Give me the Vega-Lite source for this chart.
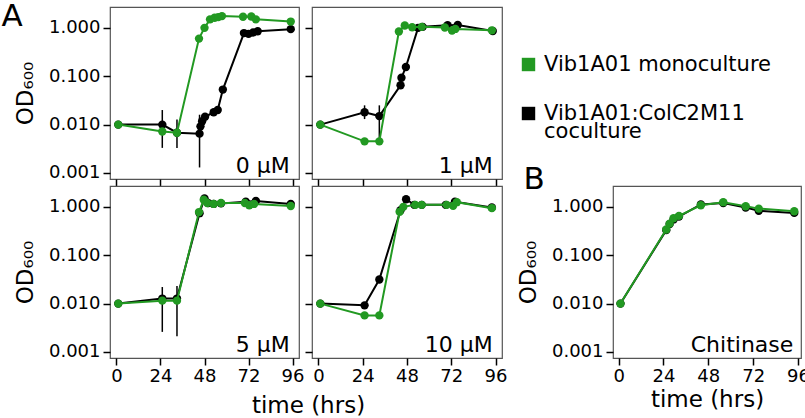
{
  "$schema": "https://vega.github.io/schema/vega-lite/v6.json",
  "padding": {"left": 0, "top": 0, "right": 0, "bottom": 0},
  "datasets": {
    "growth": [
      {"cond": "0 µM", "series": "Vib1A01 monoculture", "t": 1, "od": 0.010},
      {"cond": "0 µM", "series": "Vib1A01 monoculture", "t": 25, "od": 0.0072},
      {"cond": "0 µM", "series": "Vib1A01 monoculture", "t": 33, "od": 0.0068},
      {"cond": "0 µM", "series": "Vib1A01 monoculture", "t": 45, "od": 0.6},
      {"cond": "0 µM", "series": "Vib1A01 monoculture", "t": 48, "od": 1.0},
      {"cond": "0 µM", "series": "Vib1A01 monoculture", "t": 51, "od": 1.5},
      {"cond": "0 µM", "series": "Vib1A01 monoculture", "t": 53.5, "od": 1.62},
      {"cond": "0 µM", "series": "Vib1A01 monoculture", "t": 55.5, "od": 1.67},
      {"cond": "0 µM", "series": "Vib1A01 monoculture", "t": 57.5, "od": 1.75},
      {"cond": "0 µM", "series": "Vib1A01 monoculture", "t": 69, "od": 1.7},
      {"cond": "0 µM", "series": "Vib1A01 monoculture", "t": 73.5, "od": 1.72},
      {"cond": "0 µM", "series": "Vib1A01 monoculture", "t": 76, "od": 1.5},
      {"cond": "0 µM", "series": "Vib1A01 monoculture", "t": 95, "od": 1.35},
      {"cond": "0 µM", "series": "Vib1A01:ColC2M11 coculture", "t": 1, "od": 0.010},
      {"cond": "0 µM", "series": "Vib1A01:ColC2M11 coculture", "t": 25, "od": 0.0100, "lo": 0.0033, "hi": 0.02},
      {"cond": "0 µM", "series": "Vib1A01:ColC2M11 coculture", "t": 33, "od": 0.0068, "lo": 0.0033, "hi": 0.0127},
      {"cond": "0 µM", "series": "Vib1A01:ColC2M11 coculture", "t": 45.3, "od": 0.0065, "lo": 0.0013, "hi": 0.016},
      {"cond": "0 µM", "series": "Vib1A01:ColC2M11 coculture", "t": 45.8, "od": 0.0092},
      {"cond": "0 µM", "series": "Vib1A01:ColC2M11 coculture", "t": 46.7, "od": 0.0117},
      {"cond": "0 µM", "series": "Vib1A01:ColC2M11 coculture", "t": 48.3, "od": 0.0145},
      {"cond": "0 µM", "series": "Vib1A01:ColC2M11 coculture", "t": 53, "od": 0.018},
      {"cond": "0 µM", "series": "Vib1A01:ColC2M11 coculture", "t": 55.2, "od": 0.020},
      {"cond": "0 µM", "series": "Vib1A01:ColC2M11 coculture", "t": 58, "od": 0.053},
      {"cond": "0 µM", "series": "Vib1A01:ColC2M11 coculture", "t": 69.5, "od": 0.78},
      {"cond": "0 µM", "series": "Vib1A01:ColC2M11 coculture", "t": 72, "od": 0.75},
      {"cond": "0 µM", "series": "Vib1A01:ColC2M11 coculture", "t": 74.5, "od": 0.8},
      {"cond": "0 µM", "series": "Vib1A01:ColC2M11 coculture", "t": 77, "od": 0.85},
      {"cond": "0 µM", "series": "Vib1A01:ColC2M11 coculture", "t": 95, "od": 0.94},

      {"cond": "1 µM", "series": "Vib1A01 monoculture", "t": 1, "od": 0.010},
      {"cond": "1 µM", "series": "Vib1A01 monoculture", "t": 25, "od": 0.0045},
      {"cond": "1 µM", "series": "Vib1A01 monoculture", "t": 33, "od": 0.0045},
      {"cond": "1 µM", "series": "Vib1A01 monoculture", "t": 43.6, "od": 0.84},
      {"cond": "1 µM", "series": "Vib1A01 monoculture", "t": 46.8, "od": 1.12},
      {"cond": "1 µM", "series": "Vib1A01 monoculture", "t": 50.8, "od": 1.03},
      {"cond": "1 µM", "series": "Vib1A01 monoculture", "t": 56, "od": 1.05},
      {"cond": "1 µM", "series": "Vib1A01 monoculture", "t": 68.5, "od": 1.02},
      {"cond": "1 µM", "series": "Vib1A01 monoculture", "t": 72.4, "od": 0.88},
      {"cond": "1 µM", "series": "Vib1A01 monoculture", "t": 74.2, "od": 0.95},
      {"cond": "1 µM", "series": "Vib1A01 monoculture", "t": 94, "od": 0.89},
      {"cond": "1 µM", "series": "Vib1A01:ColC2M11 coculture", "t": 1, "od": 0.010},
      {"cond": "1 µM", "series": "Vib1A01:ColC2M11 coculture", "t": 25, "od": 0.018, "lo": 0.013, "hi": 0.025},
      {"cond": "1 µM", "series": "Vib1A01:ColC2M11 coculture", "t": 33, "od": 0.015, "lo": 0.0045, "hi": 0.025},
      {"cond": "1 µM", "series": "Vib1A01:ColC2M11 coculture", "t": 44.5, "od": 0.065},
      {"cond": "1 µM", "series": "Vib1A01:ColC2M11 coculture", "t": 45, "od": 0.093},
      {"cond": "1 µM", "series": "Vib1A01:ColC2M11 coculture", "t": 47.4, "od": 0.155},
      {"cond": "1 µM", "series": "Vib1A01:ColC2M11 coculture", "t": 54, "od": 1.0},
      {"cond": "1 µM", "series": "Vib1A01:ColC2M11 coculture", "t": 56.5, "od": 1.05},
      {"cond": "1 µM", "series": "Vib1A01:ColC2M11 coculture", "t": 70, "od": 1.13},
      {"cond": "1 µM", "series": "Vib1A01:ColC2M11 coculture", "t": 75.5, "od": 1.15},
      {"cond": "1 µM", "series": "Vib1A01:ColC2M11 coculture", "t": 94.5, "od": 0.86},

      {"cond": "5 µM", "series": "Vib1A01 monoculture", "t": 1, "od": 0.010},
      {"cond": "5 µM", "series": "Vib1A01 monoculture", "t": 25, "od": 0.0115},
      {"cond": "5 µM", "series": "Vib1A01 monoculture", "t": 33, "od": 0.0115},
      {"cond": "5 µM", "series": "Vib1A01 monoculture", "t": 45, "od": 0.78},
      {"cond": "5 µM", "series": "Vib1A01 monoculture", "t": 47.6, "od": 1.4},
      {"cond": "5 µM", "series": "Vib1A01 monoculture", "t": 49.5, "od": 1.2},
      {"cond": "5 µM", "series": "Vib1A01 monoculture", "t": 53, "od": 1.15},
      {"cond": "5 µM", "series": "Vib1A01 monoculture", "t": 57, "od": 1.2},
      {"cond": "5 µM", "series": "Vib1A01 monoculture", "t": 70, "od": 1.2},
      {"cond": "5 µM", "series": "Vib1A01 monoculture", "t": 72.4, "od": 1.08},
      {"cond": "5 µM", "series": "Vib1A01 monoculture", "t": 75, "od": 1.15},
      {"cond": "5 µM", "series": "Vib1A01 monoculture", "t": 95, "od": 1.04},
      {"cond": "5 µM", "series": "Vib1A01:ColC2M11 coculture", "t": 1, "od": 0.010},
      {"cond": "5 µM", "series": "Vib1A01:ColC2M11 coculture", "t": 25, "od": 0.0127, "lo": 0.0026, "hi": 0.022},
      {"cond": "5 µM", "series": "Vib1A01:ColC2M11 coculture", "t": 33, "od": 0.0127, "lo": 0.0021, "hi": 0.023},
      {"cond": "5 µM", "series": "Vib1A01:ColC2M11 coculture", "t": 45.3, "od": 0.74},
      {"cond": "5 µM", "series": "Vib1A01:ColC2M11 coculture", "t": 48, "od": 1.5},
      {"cond": "5 µM", "series": "Vib1A01:ColC2M11 coculture", "t": 50, "od": 1.2},
      {"cond": "5 µM", "series": "Vib1A01:ColC2M11 coculture", "t": 53, "od": 1.15},
      {"cond": "5 µM", "series": "Vib1A01:ColC2M11 coculture", "t": 57, "od": 1.18},
      {"cond": "5 µM", "series": "Vib1A01:ColC2M11 coculture", "t": 70.5, "od": 1.28},
      {"cond": "5 µM", "series": "Vib1A01:ColC2M11 coculture", "t": 76, "od": 1.32},
      {"cond": "5 µM", "series": "Vib1A01:ColC2M11 coculture", "t": 95, "od": 1.15},

      {"cond": "10 µM", "series": "Vib1A01 monoculture", "t": 1, "od": 0.010},
      {"cond": "10 µM", "series": "Vib1A01 monoculture", "t": 25, "od": 0.0057},
      {"cond": "10 µM", "series": "Vib1A01 monoculture", "t": 33, "od": 0.0057},
      {"cond": "10 µM", "series": "Vib1A01 monoculture", "t": 44, "od": 0.79},
      {"cond": "10 µM", "series": "Vib1A01 monoculture", "t": 46, "od": 1.0},
      {"cond": "10 µM", "series": "Vib1A01 monoculture", "t": 52.5, "od": 1.1},
      {"cond": "10 µM", "series": "Vib1A01 monoculture", "t": 56, "od": 1.1},
      {"cond": "10 µM", "series": "Vib1A01 monoculture", "t": 69.5, "od": 1.1},
      {"cond": "10 µM", "series": "Vib1A01 monoculture", "t": 73, "od": 1.05},
      {"cond": "10 µM", "series": "Vib1A01 monoculture", "t": 75, "od": 1.25},
      {"cond": "10 µM", "series": "Vib1A01 monoculture", "t": 94, "od": 0.94},
      {"cond": "10 µM", "series": "Vib1A01:ColC2M11 coculture", "t": 1, "od": 0.010},
      {"cond": "10 µM", "series": "Vib1A01:ColC2M11 coculture", "t": 25, "od": 0.0092},
      {"cond": "10 µM", "series": "Vib1A01:ColC2M11 coculture", "t": 33, "od": 0.0315},
      {"cond": "10 µM", "series": "Vib1A01:ColC2M11 coculture", "t": 44.5, "od": 0.85},
      {"cond": "10 µM", "series": "Vib1A01:ColC2M11 coculture", "t": 47.5, "od": 1.44},
      {"cond": "10 µM", "series": "Vib1A01:ColC2M11 coculture", "t": 52, "od": 1.1},
      {"cond": "10 µM", "series": "Vib1A01:ColC2M11 coculture", "t": 56, "od": 1.1},
      {"cond": "10 µM", "series": "Vib1A01:ColC2M11 coculture", "t": 69, "od": 1.1},
      {"cond": "10 µM", "series": "Vib1A01:ColC2M11 coculture", "t": 74, "od": 1.28},
      {"cond": "10 µM", "series": "Vib1A01:ColC2M11 coculture", "t": 94, "od": 0.97},

      {"cond": "Chitinase", "series": "Vib1A01 monoculture", "t": 1, "od": 0.010},
      {"cond": "Chitinase", "series": "Vib1A01 monoculture", "t": 25.5, "od": 0.34},
      {"cond": "Chitinase", "series": "Vib1A01 monoculture", "t": 27.3, "od": 0.45},
      {"cond": "Chitinase", "series": "Vib1A01 monoculture", "t": 29.4, "od": 0.58},
      {"cond": "Chitinase", "series": "Vib1A01 monoculture", "t": 32.3, "od": 0.65},
      {"cond": "Chitinase", "series": "Vib1A01 monoculture", "t": 44, "od": 1.08},
      {"cond": "Chitinase", "series": "Vib1A01 monoculture", "t": 56, "od": 1.25},
      {"cond": "Chitinase", "series": "Vib1A01 monoculture", "t": 68, "od": 1.03},
      {"cond": "Chitinase", "series": "Vib1A01 monoculture", "t": 75, "od": 0.92},
      {"cond": "Chitinase", "series": "Vib1A01 monoculture", "t": 94, "od": 0.81},
      {"cond": "Chitinase", "series": "Vib1A01:ColC2M11 coculture", "t": 1, "od": 0.010},
      {"cond": "Chitinase", "series": "Vib1A01:ColC2M11 coculture", "t": 25.5, "od": 0.33},
      {"cond": "Chitinase", "series": "Vib1A01:ColC2M11 coculture", "t": 27.3, "od": 0.44},
      {"cond": "Chitinase", "series": "Vib1A01:ColC2M11 coculture", "t": 29.4, "od": 0.55},
      {"cond": "Chitinase", "series": "Vib1A01:ColC2M11 coculture", "t": 32.3, "od": 0.63},
      {"cond": "Chitinase", "series": "Vib1A01:ColC2M11 coculture", "t": 44, "od": 1.12},
      {"cond": "Chitinase", "series": "Vib1A01:ColC2M11 coculture", "t": 56, "od": 1.2},
      {"cond": "Chitinase", "series": "Vib1A01:ColC2M11 coculture", "t": 68, "od": 0.97},
      {"cond": "Chitinase", "series": "Vib1A01:ColC2M11 coculture", "t": 75, "od": 0.83},
      {"cond": "Chitinase", "series": "Vib1A01:ColC2M11 coculture", "t": 94, "od": 0.75}
    ]
  },
  "columns": 4,
  "bounds": "flush",
  "spacing": {"row": 7, "column": 13},
  "concat": [
    {
      "width": 189, "height": 172,
      "title": {"text": "A", "anchor": "start", "frame": "bounds", "dx": -13, "dy": 30},
      "data": {"name": "growth"},
      "encoding": {
        "x": {"field": "t", "type": "quantitative", "scale": {"domain": [-3.5, 99.5], "nice": false, "zero": false}, "axis": {"values": [0, 24, 48, 72, 96], "labels": false, "title": null}},
        "y": {"field": "od", "type": "quantitative", "scale": {"type": "log", "domain": [0.00075, 2.7], "nice": false}, "axis": {"values": [0.001, 0.01, 0.1, 1], "format": ".3f", "title": "OD₆₀₀"}}
      },
      "layer": [
        {"transform": [{"filter": "datum.cond == '0 µM' && isValid(datum.lo)"}], "mark": {"type": "rule", "color": "black", "strokeWidth": 1.5},
         "encoding": {"y": {"field": "lo", "type": "quantitative", "scale": {"type": "log", "domain": [0.00075, 2.7], "nice": false}}, "y2": {"field": "hi"}}},
        {"transform": [{"filter": "datum.cond == '0 µM' && datum.series != 'Vib1A01 monoculture'"}], "mark": {"type": "line", "strokeWidth": 2},
         "encoding": {"color": {"field": "series", "type": "nominal", "scale": {"domain": ["Vib1A01 monoculture", "Vib1A01:ColC2M11 coculture"], "range": ["#229922", "#000000"]}, "legend": {"title": null, "orient": "none", "legendX": 408, "legendY": 47, "symbolType": "square", "symbolSize": 180, "symbolStrokeWidth": 0, "symbolOpacity": 1, "labelFontSize": 21, "labelFont": "DejaVu Sans", "labelColor": "black", "labelLimit": 320, "labelOffset": 5, "rowPadding": 27, "padding": 0, "labelExpr": "datum.label == 'Vib1A01:ColC2M11 coculture' ? ['Vib1A01:ColC2M11', 'coculture'] : datum.label"}}}},
        {"transform": [{"filter": "datum.cond == '0 µM' && datum.series != 'Vib1A01 monoculture'"}], "mark": {"type": "circle", "size": 70, "opacity": 1},
         "encoding": {"color": {"field": "series", "type": "nominal"}}},
        {"transform": [{"filter": "datum.cond == '0 µM' && datum.series == 'Vib1A01 monoculture'"}], "mark": {"type": "line", "strokeWidth": 2},
         "encoding": {"color": {"field": "series", "type": "nominal"}}},
        {"transform": [{"filter": "datum.cond == '0 µM' && datum.series == 'Vib1A01 monoculture'"}], "mark": {"type": "circle", "size": 70, "opacity": 1},
         "encoding": {"color": {"field": "series", "type": "nominal"}}},
        {"transform": [{"filter": "datum.cond == '0 µM' && datum.t == 1 && datum.series == 'Vib1A01 monoculture'"}],
         "mark": {"type": "text", "align": "right", "baseline": "alphabetic", "fontSize": 22, "color": "black"},
         "encoding": {"x": {"datum": 94.5, "type": "quantitative"}, "y": {"datum": 0.001, "type": "quantitative"}, "text": {"field": "cond", "type": "nominal"}}}
      ]
    },
    {
      "width": 190, "height": 172,
      "data": {"name": "growth"},
      "encoding": {
        "x": {"field": "t", "type": "quantitative", "scale": {"domain": [-3.5, 99.5], "nice": false, "zero": false}, "axis": {"values": [0, 24, 48, 72, 96], "labels": false, "title": null}},
        "y": {"field": "od", "type": "quantitative", "scale": {"type": "log", "domain": [0.00075, 2.7], "nice": false}, "axis": {"values": [0.001, 0.01, 0.1, 1], "labels": false, "title": null}}
      },
      "layer": [
        {"transform": [{"filter": "datum.cond == '1 µM' && isValid(datum.lo)"}], "mark": {"type": "rule", "color": "black", "strokeWidth": 1.5},
         "encoding": {"y": {"field": "lo", "type": "quantitative", "scale": {"type": "log", "domain": [0.00075, 2.7], "nice": false}}, "y2": {"field": "hi"}}},
        {"transform": [{"filter": "datum.cond == '1 µM' && datum.series != 'Vib1A01 monoculture'"}], "mark": {"type": "line", "strokeWidth": 2},
         "encoding": {"color": {"field": "series", "type": "nominal"}}},
        {"transform": [{"filter": "datum.cond == '1 µM' && datum.series != 'Vib1A01 monoculture'"}], "mark": {"type": "circle", "size": 70, "opacity": 1},
         "encoding": {"color": {"field": "series", "type": "nominal"}}},
        {"transform": [{"filter": "datum.cond == '1 µM' && datum.series == 'Vib1A01 monoculture'"}], "mark": {"type": "line", "strokeWidth": 2},
         "encoding": {"color": {"field": "series", "type": "nominal"}}},
        {"transform": [{"filter": "datum.cond == '1 µM' && datum.series == 'Vib1A01 monoculture'"}], "mark": {"type": "circle", "size": 70, "opacity": 1},
         "encoding": {"color": {"field": "series", "type": "nominal"}}},
        {"transform": [{"filter": "datum.cond == '1 µM' && datum.t == 1 && datum.series == 'Vib1A01 monoculture'"}],
         "mark": {"type": "text", "align": "right", "baseline": "alphabetic", "fontSize": 22, "color": "black"},
         "encoding": {"x": {"datum": 94.5, "type": "quantitative"}, "y": {"datum": 0.001, "type": "quantitative"}, "text": {"field": "cond", "type": "nominal"}}}
      ]
    },
    {"width": 85, "height": 172, "data": {"values": []}, "mark": {"type": "point", "opacity": 0}, "view": {"stroke": null}},
    {"width": 188, "height": 172, "data": {"values": []}, "mark": {"type": "point", "opacity": 0}, "view": {"stroke": null}},
    {
      "width": 189, "height": 172,
      "data": {"name": "growth"},
      "encoding": {
        "x": {"field": "t", "type": "quantitative", "scale": {"domain": [-3.5, 99.5], "nice": false, "zero": false}, "axis": {"values": [0, 24, 48, 72, 96], "title": "time (hrs)", "titleX": 198, "titleAlign": "center", "titlePadding": 9}},
        "y": {"field": "od", "type": "quantitative", "scale": {"type": "log", "domain": [0.00075, 2.7], "nice": false}, "axis": {"values": [0.001, 0.01, 0.1, 1], "format": ".3f", "title": "OD₆₀₀"}}
      },
      "layer": [
        {"transform": [{"filter": "datum.cond == '5 µM' && isValid(datum.lo)"}], "mark": {"type": "rule", "color": "black", "strokeWidth": 1.5},
         "encoding": {"y": {"field": "lo", "type": "quantitative", "scale": {"type": "log", "domain": [0.00075, 2.7], "nice": false}}, "y2": {"field": "hi"}}},
        {"transform": [{"filter": "datum.cond == '5 µM' && datum.series != 'Vib1A01 monoculture'"}], "mark": {"type": "line", "strokeWidth": 2},
         "encoding": {"color": {"field": "series", "type": "nominal"}}},
        {"transform": [{"filter": "datum.cond == '5 µM' && datum.series != 'Vib1A01 monoculture'"}], "mark": {"type": "circle", "size": 70, "opacity": 1},
         "encoding": {"color": {"field": "series", "type": "nominal"}}},
        {"transform": [{"filter": "datum.cond == '5 µM' && datum.series == 'Vib1A01 monoculture'"}], "mark": {"type": "line", "strokeWidth": 2},
         "encoding": {"color": {"field": "series", "type": "nominal"}}},
        {"transform": [{"filter": "datum.cond == '5 µM' && datum.series == 'Vib1A01 monoculture'"}], "mark": {"type": "circle", "size": 70, "opacity": 1},
         "encoding": {"color": {"field": "series", "type": "nominal"}}},
        {"transform": [{"filter": "datum.cond == '5 µM' && datum.t == 1 && datum.series == 'Vib1A01 monoculture'"}],
         "mark": {"type": "text", "align": "right", "baseline": "alphabetic", "fontSize": 22, "color": "black"},
         "encoding": {"x": {"datum": 94.5, "type": "quantitative"}, "y": {"datum": 0.001, "type": "quantitative"}, "text": {"field": "cond", "type": "nominal"}}}
      ]
    },
    {
      "width": 190, "height": 172,
      "data": {"name": "growth"},
      "encoding": {
        "x": {"field": "t", "type": "quantitative", "scale": {"domain": [-3.5, 99.5], "nice": false, "zero": false}, "axis": {"values": [0, 24, 48, 72, 96], "title": null}},
        "y": {"field": "od", "type": "quantitative", "scale": {"type": "log", "domain": [0.00075, 2.7], "nice": false}, "axis": {"values": [0.001, 0.01, 0.1, 1], "labels": false, "title": null}}
      },
      "layer": [
        {"transform": [{"filter": "datum.cond == '10 µM' && datum.series != 'Vib1A01 monoculture'"}], "mark": {"type": "line", "strokeWidth": 2},
         "encoding": {"color": {"field": "series", "type": "nominal"}}},
        {"transform": [{"filter": "datum.cond == '10 µM' && datum.series != 'Vib1A01 monoculture'"}], "mark": {"type": "circle", "size": 70, "opacity": 1},
         "encoding": {"color": {"field": "series", "type": "nominal"}}},
        {"transform": [{"filter": "datum.cond == '10 µM' && datum.series == 'Vib1A01 monoculture'"}], "mark": {"type": "line", "strokeWidth": 2},
         "encoding": {"color": {"field": "series", "type": "nominal"}}},
        {"transform": [{"filter": "datum.cond == '10 µM' && datum.series == 'Vib1A01 monoculture'"}], "mark": {"type": "circle", "size": 70, "opacity": 1},
         "encoding": {"color": {"field": "series", "type": "nominal"}}},
        {"transform": [{"filter": "datum.cond == '10 µM' && datum.t == 1 && datum.series == 'Vib1A01 monoculture'"}],
         "mark": {"type": "text", "align": "right", "baseline": "alphabetic", "fontSize": 22, "color": "black"},
         "encoding": {"x": {"datum": 94.5, "type": "quantitative"}, "y": {"datum": 0.001, "type": "quantitative"}, "text": {"field": "cond", "type": "nominal"}}}
      ]
    },
    {"width": 85, "height": 172, "data": {"values": []}, "mark": {"type": "point", "opacity": 0}, "view": {"stroke": null}},
    {
      "width": 188, "height": 172,
      "title": {"text": "B", "anchor": "start", "frame": "bounds", "dx": 6, "dy": 14},
      "data": {"name": "growth"},
      "encoding": {
        "x": {"field": "t", "type": "quantitative", "scale": {"domain": [-3, 97.6], "nice": false, "zero": false}, "axis": {"values": [0, 24, 48, 72, 96], "title": "time (hrs)", "titlePadding": 3}},
        "y": {"field": "od", "type": "quantitative", "scale": {"type": "log", "domain": [0.00075, 2.7], "nice": false}, "axis": {"values": [0.001, 0.01, 0.1, 1], "format": ".3f", "title": "OD₆₀₀"}}
      },
      "layer": [
        {"transform": [{"filter": "datum.cond == 'Chitinase' && datum.series != 'Vib1A01 monoculture'"}], "mark": {"type": "line", "strokeWidth": 2},
         "encoding": {"color": {"field": "series", "type": "nominal"}}},
        {"transform": [{"filter": "datum.cond == 'Chitinase' && datum.series != 'Vib1A01 monoculture'"}], "mark": {"type": "circle", "size": 70, "opacity": 1},
         "encoding": {"color": {"field": "series", "type": "nominal"}}},
        {"transform": [{"filter": "datum.cond == 'Chitinase' && datum.series == 'Vib1A01 monoculture'"}], "mark": {"type": "line", "strokeWidth": 2},
         "encoding": {"color": {"field": "series", "type": "nominal"}}},
        {"transform": [{"filter": "datum.cond == 'Chitinase' && datum.series == 'Vib1A01 monoculture'"}], "mark": {"type": "circle", "size": 70, "opacity": 1},
         "encoding": {"color": {"field": "series", "type": "nominal"}}},
        {"transform": [{"filter": "datum.cond == 'Chitinase' && datum.t == 1 && datum.series == 'Vib1A01 monoculture'"}],
         "mark": {"type": "text", "align": "right", "baseline": "alphabetic", "fontSize": 22, "color": "black"},
         "encoding": {"x": {"datum": 93.5, "type": "quantitative"}, "y": {"datum": 0.001, "type": "quantitative"}, "text": {"field": "cond", "type": "nominal"}}}
      ]
    }
  ],
  "config": {
    "font": "DejaVu Sans",
    "view": {"stroke": "#555555", "strokeWidth": 1.2},
    "axis": {"domain": false, "grid": false, "tickSize": 7, "tickWidth": 1.5, "tickColor": "black", "labelFont": "DejaVu Sans", "labelFontSize": 18, "labelColor": "black", "labelPadding": 3, "titleFont": "DejaVu Sans", "titleFontSize": 23, "titleFontWeight": "normal", "titleColor": "black"},
    "axisY": {"titlePadding": 11},
    "axisX": {"labelPadding": 2},
    "title": {"font": "DejaVu Sans", "fontSize": 31, "fontWeight": "normal", "color": "black"},
    "style": {"guide-label": {"lineHeight": 18}}
  }
}
